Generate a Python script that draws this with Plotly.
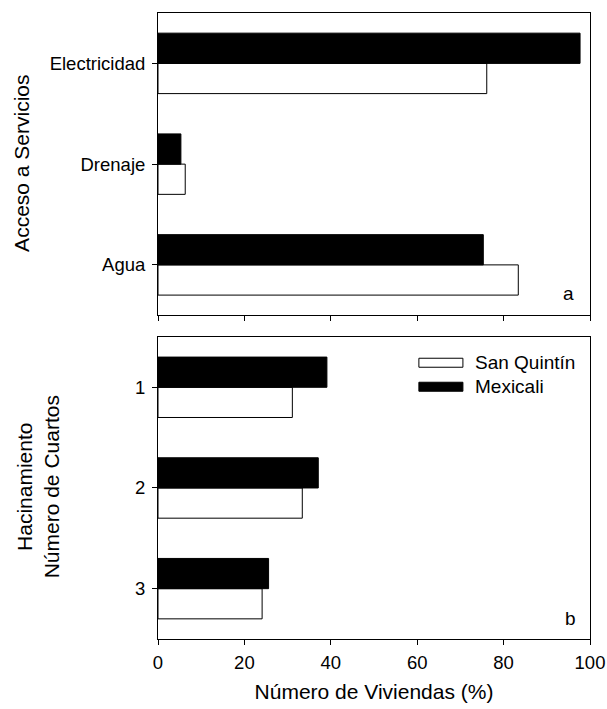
import plotly.graph_objects as go
from plotly.subplots import make_subplots

# ---- data ----
services = ["Agua", "Drenaje", "Electricidad"]          # bottom -> top
services_sq = [83.4, 6.3, 76.1]                         # San Quintín
services_mx = [75.3, 5.3, 97.7]                         # Mexicali

rooms = ["3", "2", "1"]                                  # bottom -> top
rooms_sq = [24.1, 33.4, 31.1]
rooms_mx = [25.6, 37.1, 39.1]

series_names = ["San Quintín", "Mexicali"]
x_ticks = [0, 20, 40, 60, 80, 100]

FONT = "Liberation Sans, Arial, sans-serif"
W, H = 607, 709
L, R, T, B = 158.3, 590.0, 12.7, 638.8
PW, PH = R - L, B - T


def px(x):
    return (x - L) / PW


def py(y):
    return (B - y) / PH


fig = make_subplots(rows=2, cols=1, shared_xaxes=False, vertical_spacing=0.0)

bar_w = 0.3
for row, cats, sq, mx in [(1, services, services_sq, services_mx),
                          (2, rooms, rooms_sq, rooms_mx)]:
    fig.add_trace(go.Bar(y=cats, x=sq, orientation="h", name=series_names[0],
                         width=bar_w, offset=-bar_w,
                         marker=dict(color="white", line=dict(color="black", width=1)),
                         showlegend=False), row=row, col=1)
    fig.add_trace(go.Bar(y=cats, x=mx, orientation="h", name=series_names[1],
                         width=bar_w, offset=0,
                         marker=dict(color="black", line=dict(color="black", width=1)),
                         showlegend=False), row=row, col=1)

top_dom = [py(315.0), 1.0]
bot_dom = [0.0, py(336.7)]

axis_common = dict(showline=True, linecolor="black", linewidth=1, mirror=True,
                   ticks="outside", ticklen=5, tickwidth=1, tickcolor="black",
                   showgrid=False, zeroline=False, automargin=False,
                   tickfont=dict(family=FONT, size=18.5, color="black"))

fig.update_layout(
    xaxis=dict(domain=[0, 1], range=[0, 100], tickvals=x_ticks, showticklabels=False,
               anchor="y", **axis_common),
    yaxis=dict(domain=top_dom, type="category", categoryorder="array",
               categoryarray=services, range=[-0.5, 2.5], anchor="x",
               ticklabelstandoff=3, **axis_common),
    xaxis2=dict(domain=[0, 1], range=[0, 100], tickvals=x_ticks, anchor="y2",
                ticklabelstandoff=2,
                title=dict(text="Número de Viviendas (%)",
                           font=dict(family=FONT, size=21, color="black"), standoff=12),
                **axis_common),
    yaxis2=dict(domain=bot_dom, type="category", categoryorder="array",
                categoryarray=rooms, range=[-0.5, 2.5], anchor="x2",
                ticklabelstandoff=3, **axis_common),
    barmode="overlay",
    width=W, height=H,
    margin=dict(l=L, r=W - R, t=T, b=H - B, pad=0, autoexpand=False),
    paper_bgcolor="white", plot_bgcolor="white",
    font=dict(family=FONT, size=19, color="black"),
    showlegend=False,
)

annotations = [
    dict(text="Acceso a Servicios", x=px(22), y=py(163), textangle=-90,
         font=dict(size=21)),
    dict(text="Hacinamiento<br>Número de Cuartos", x=px(38.5), y=py(487), textangle=-90,
         font=dict(size=21)),
    dict(text="a", x=px(569), y=py(293), font=dict(size=19)),
    dict(text="b", x=px(571), y=py(618), font=dict(size=19)),
    dict(text=series_names[0], x=px(473), y=py(362.5), xanchor="left", font=dict(size=19)),
    dict(text=series_names[1], x=px(473), y=py(386.5), xanchor="left", font=dict(size=19)),
]
for a in annotations:
    a.setdefault("xanchor", "center")
    a.update(xref="paper", yref="paper", yanchor="middle", showarrow=False)
    a["font"] = dict(family=FONT, color="black", **a["font"])
fig.update_layout(annotations=annotations)

fig.add_shape(type="rect", xref="paper", yref="paper",
              x0=px(419), x1=px(463), y0=py(367), y1=py(358),
              fillcolor="white", line=dict(color="black", width=1))
fig.add_shape(type="rect", xref="paper", yref="paper",
              x0=px(419), x1=px(463), y0=py(391), y1=py(382),
              fillcolor="black", line=dict(color="black", width=1))

fig.write_html("out.html")
